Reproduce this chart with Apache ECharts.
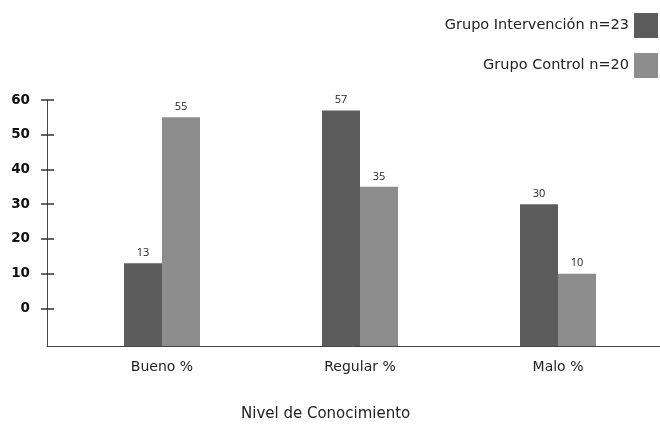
<!DOCTYPE html>
<html>
<head>
<meta charset="utf-8">
<script src="https://cdn.jsdelivr.net/npm/echarts@6/dist/echarts.min.js"></script>
<style>
  html, body { margin: 0; padding: 0; background: #fff; }
  #chart { width: 660px; height: 427px; }
</style>
</head>
<body>
<div id="chart"></div>
<script>
var categories = ['Bueno %', 'Regular %', 'Malo %'];
var intervencion = [13, 57, 30];
var control = [55, 35, 10];
var yTicks = [0, 10, 20, 30, 40, 50, 60];
var seriesNames = ['Grupo Intervención n=23', 'Grupo Control n=20'];

var font = 'DejaVu Sans';
var yMin = -10.8, yMax = 60;

var chart = echarts.init(document.getElementById('chart'));

var labelOpt = {
  show: true,
  position: 'top',
  distance: 5,
  fontFamily: 'Open Sans',
  fontSize: 11,
  color: '#222'
};

chart.setOption({
  animation: false,
  color: ['#5c5c5c', '#8d8d8d'],
  title: {
    text: 'Nivel de Conocimiento',
    left: 236,
    top: 402,
    textStyle: { fontFamily: font, fontSize: 15, fontWeight: 'normal', color: '#222' }
  },
  legend: {
    orient: 'vertical',
    right: -3,
    top: 8,
    align: 'right',
    icon: 'rect',
    itemWidth: 24,
    itemHeight: 25,
    itemGap: 15,
    data: seriesNames,
    textStyle: { fontFamily: font, fontSize: 14.5, color: '#222' }
  },
  grid: [
    { left: 47, right: 0, top: 100, bottom: 81 },
    { left: 63, right: 3, top: 100, bottom: 81 }
  ],
  xAxis: [
    {
      gridIndex: 0,
      type: 'category',
      data: categories,
      axisLine: { onZero: false, lineStyle: { color: '#444', width: 1 } },
      axisTick: { show: false },
      axisLabel: { show: false }
    },
    {
      gridIndex: 1,
      type: 'category',
      data: categories,
      axisLine: { show: false },
      axisTick: { show: false },
      axisLabel: { margin: 14, fontFamily: font, fontSize: 14, color: '#222' }
    }
  ],
  yAxis: [
    {
      gridIndex: 0,
      type: 'value',
      min: yMin,
      max: yMax,
      axisLine: { show: true, lineStyle: { color: '#444', width: 1 } },
      axisTick: { show: true, customValues: yTicks, length: 6, lineStyle: { color: '#333', width: 1.5 } },
      axisLabel: { customValues: yTicks, margin: 17, fontFamily: font, fontSize: 13.5, fontWeight: 'bold', color: '#111' },
      splitLine: { show: false }
    },
    {
      gridIndex: 0,
      type: 'value',
      position: 'left',
      offset: 0,
      min: yMin,
      max: yMax,
      axisLine: { show: false },
      axisTick: { show: true, inside: true, customValues: yTicks, length: 7, lineStyle: { color: '#333', width: 1.5 } },
      axisLabel: { show: false },
      splitLine: { show: false }
    },
    {
      gridIndex: 1,
      type: 'value',
      min: yMin,
      max: yMax,
      startValue: yMin,
      show: false
    }
  ],
  series: [
    {
      name: seriesNames[0],
      type: 'bar',
      xAxisIndex: 1,
      yAxisIndex: 2,
      barWidth: 38,
      barGap: '0%',
      data: intervencion,
      label: labelOpt
    },
    {
      name: seriesNames[1],
      type: 'bar',
      xAxisIndex: 1,
      yAxisIndex: 2,
      barWidth: 38,
      barGap: '0%',
      data: control,
      label: labelOpt
    }
  ]
});
</script>
</body>
</html>
